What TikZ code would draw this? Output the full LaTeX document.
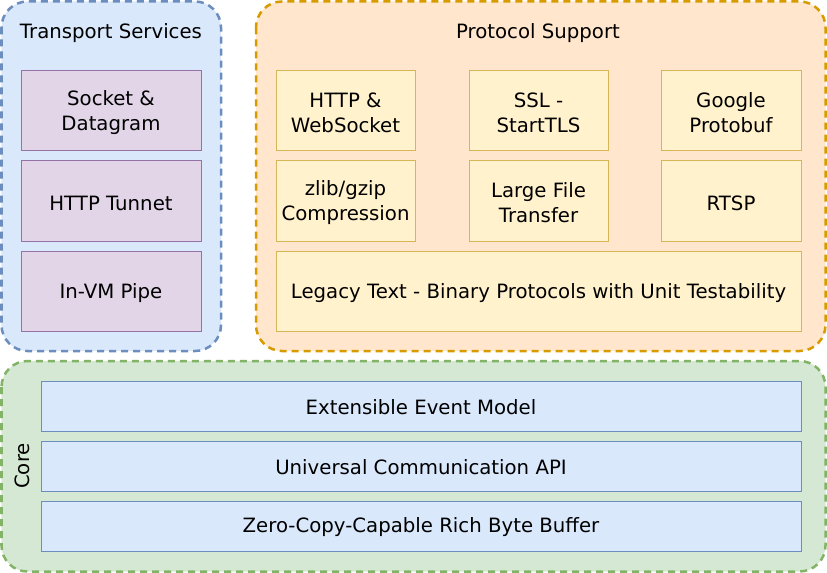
\documentclass[tikz,border=0pt]{standalone}
\usepackage{fontspec}
\setmainfont{DejaVu Sans}
\begin{document}
\begin{tikzpicture}[x=1bp,y=-1bp,
  grp/.style={line width=2.5bp, dash pattern=on 7bp off 5bp, rounded corners=26bp},
  tgrp/.style={grp, fill=tfill, draw=tdraw},
  pgrp/.style={grp, fill=pfill, draw=pdraw},
  cgrp/.style={grp, fill=cfill, draw=cdraw},
  tbox/.style={draw=tbdraw, fill=tbfill, line width=1bp},
  pbox/.style={draw=pbdraw, fill=pbfill, line width=1bp},
  cbox/.style={draw=tdraw, fill=tfill, line width=1bp},
  lbl/.style={font=\fontsize{19.8}{25}\selectfont, align=center, inner sep=0pt},
]
\definecolor{tfill}{HTML}{DAE8FC}
\definecolor{tdraw}{HTML}{6C8EBF}
\definecolor{pfill}{HTML}{FFE6CC}
\definecolor{pdraw}{HTML}{D79B00}
\definecolor{cfill}{HTML}{D5E8D4}
\definecolor{cdraw}{HTML}{82B366}
\definecolor{tbfill}{HTML}{E1D5E7}
\definecolor{tbdraw}{HTML}{9673A6}
\definecolor{pbfill}{HTML}{FFF2CC}
\definecolor{pbdraw}{HTML}{D6B656}
\useasboundingbox (0,0) rectangle (827,573);

% Transport Services
\draw[tgrp] (1.5,1.5) rectangle (221,351);
\node[lbl] (ttitle) at (111,33) {Transport Services};
\draw[tbox] (21,71) rectangle (201,151);
\node[lbl] (t1) at (111,113) {Socket \&\\Datagram};
\draw[tbox] (21,161) rectangle (201,241);
\node[lbl] (t2) at (111,203) {HTTP Tunnet};
\draw[tbox] (21,251) rectangle (201,331);
\node[lbl] (t3) at (111,293) {In-VM Pipe};

% Protocol Support
\draw[pgrp] (256,1.5) rectangle (825.5,351);
\node[lbl] (ptitle) at (538,33) {Protocol Support};
\draw[pbox] (276,71) rectangle (415,151);
\node[lbl] (p1) at (345.5,113) {HTTP \&\\WebSocket};
\draw[pbox] (469,71) rectangle (608,151);
\node[lbl] (p2) at (538.5,113) {SSL -\\StartTLS};
\draw[pbox] (661,71) rectangle (801,151);
\node[lbl] (p3) at (731,113) {Google\\Protobuf};
\draw[pbox] (276,161) rectangle (415,241);
\node[lbl] (p4) at (345.5,203) {zlib/gzip\\Compression};
\draw[pbox] (469,161) rectangle (608,241);
\node[lbl] (p5) at (538.5,203) {Large File\\Transfer};
\draw[pbox] (661,161) rectangle (801,241);
\node[lbl] (p6) at (731,203) {RTSP};
\draw[pbox] (276,251) rectangle (801,331);
\node[lbl] (p7) at (538.5,293) {Legacy Text - Binary Protocols with Unit Testability};

% Core
\draw[cgrp] (1.5,361) rectangle (825.5,571.5);
\node[lbl, rotate=90] (ctitle) at (22,466) {Core};
\draw[cbox] (41,381) rectangle (801,431);
\node[lbl] (c1) at (421,407) {Extensible Event Model};
\draw[cbox] (41,441) rectangle (801,491);
\node[lbl] (c2) at (421,467) {Universal Communication API};
\draw[cbox] (41,501) rectangle (801,551);
\node[lbl] (c3) at (421,527) {Zero-Copy-Capable Rich Byte Buffer};
\end{tikzpicture}
\end{document}
